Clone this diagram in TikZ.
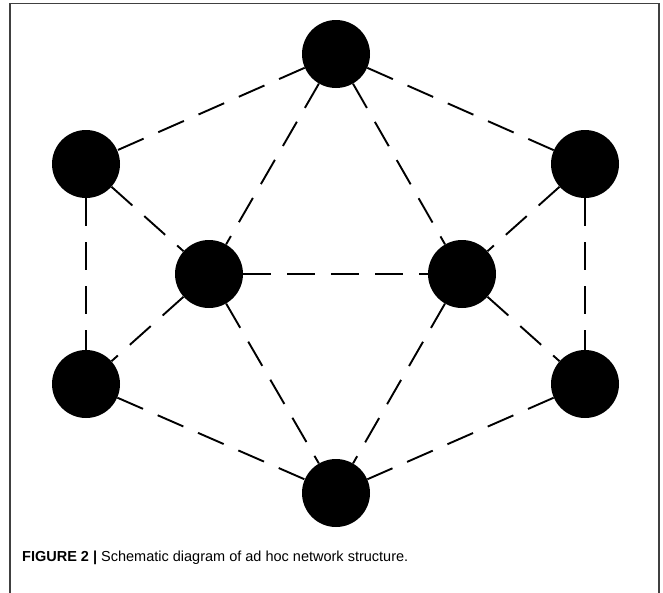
\documentclass[tikz,border=0pt]{standalone}
\usepackage{fontspec}
\setmainfont{Liberation Sans}
\begin{document}
\begin{tikzpicture}[x=1pt,y=-1pt,
  station/.style={circle,fill=black,inner sep=0pt,minimum size=68pt},
  link/.style={line width=1.9pt,dash pattern=on 28pt off 16pt},
  frameline/.style={draw=black!75,line width=1.6pt}]
\useasboundingbox (0,0) rectangle (663,592);
% open frame around the figure
\draw[frameline] (10,600) -- (10,3.5) -- (659,3.5) -- (659,600);
% stations
\node[station] (top) at (336,54) {};
\node[station] (lu) at (86,164) {};
\node[station] (ru) at (585,164) {};
\node[station] (il) at (209,274) {};
\node[station] (ir) at (462,274) {};
\node[station] (ll) at (86,384) {};
\node[station] (rl) at (585,384) {};
\node[station] (bot) at (336,493) {};
% links
\foreach \a/\b in {top/lu, top/ru, top/il, top/ir, lu/il, lu/ll, ru/ir, ru/rl,
                   il/ir, il/ll, il/bot, ir/rl, ir/bot, ll/bot, rl/bot}
  \draw[link] (\a) -- (\b);
% caption
\node[anchor=base west,inner sep=0pt,font=\fontsize{14.5}{17}\selectfont] (cap) at (22,561)
  {\textbf{FIGURE 2 |} Schematic diagram of ad hoc network structure.};
\end{tikzpicture}
\end{document}
